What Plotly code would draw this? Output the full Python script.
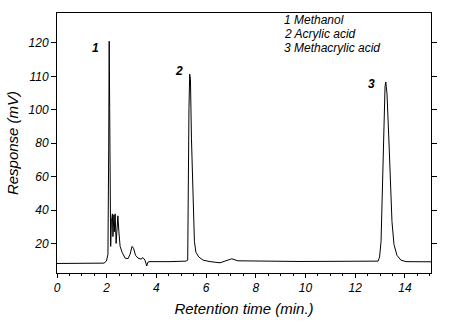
import plotly.graph_objects as go

# Chromatogram trace: retention time (min) and detector response
time_min = [0.00, 1.89, 1.99, 2.05, 2.08, 2.10, 2.12, 2.14, 2.16, 2.19, 2.23, 2.25,
            2.29, 2.31, 2.34, 2.38, 2.41, 2.45, 2.49, 2.54, 2.62, 2.74, 2.86, 2.94,
            3.02, 3.08, 3.16, 3.26, 3.38, 3.46, 3.54, 3.61, 3.66, 3.74, 4.55, 5.19,
            5.26, 5.27, 5.31, 5.34, 5.37, 5.41, 5.47, 5.53, 5.59, 5.71, 5.88, 6.16,
            6.56, 6.80, 7.03, 7.28, 8.17, 9.78, 12.92, 12.98, 13.04, 13.08, 13.14,
            13.20, 13.23, 13.28, 13.36, 13.42, 13.48, 13.56, 13.68, 13.84, 14.04, 15.05]
response = [8.0, 8.2, 9.4, 13.5, 77.0, 141.0, 100.7, 47.7, 18.2, 33.0, 37.7, 24.1,
            37.1, 27.0, 37.7, 20.0, 30.0, 36.5, 27.0, 18.2, 14.7, 11.2, 10.9, 13.5,
            18.2, 17.1, 12.9, 11.2, 10.6, 11.5, 10.0, 6.5, 8.8, 9.1, 9.1, 9.4,
            10.0, 47.7, 100.7, 121.3, 118.3, 83.0, 47.7, 21.2, 14.7, 11.8, 10.0, 9.1,
            8.4, 9.4, 10.8, 9.6, 9.4, 9.2, 9.4, 11.8, 21.2, 47.7, 83.0,
            113.7, 116.6, 109.5, 80.1, 53.6, 33.0, 19.4, 12.9, 10.0, 9.1, 9.0]

# Axis ticks
y_tick_pos = [20, 40, 60, 80, 100, 120, 140]
y_tick_text = ["20", "40", "60", "80", "100", "110", "120"]
x_tick_pos = [0, 2, 4, 6, 8, 10, 12, 14]

# Peak numbers and compound key
peak_ids = ["1", "2", "3"]
peak_label_t = [1.53, 4.91, 12.64]
peak_label_r = [137.2, 123.1, 115.4]
compounds = ["1 Methanol", "2 Acrylic acid", "3 Methacrylic acid"]

FONT = "Liberation Sans, Arial, sans-serif"

fig = go.Figure()
fig.add_trace(go.Scatter(x=time_min, y=response, mode="lines",
                         line=dict(color="black", width=1), showlegend=False,
                         hoverinfo="skip"))

for pid, t, r in zip(peak_ids, peak_label_t, peak_label_r):
    fig.add_annotation(x=t, y=r, text="<b>" + pid + "</b>", showarrow=False,
                       xanchor="center", yanchor="middle",
                       font=dict(family=FONT, size=12, color="black", style="italic"))

key_y = [0.975, 0.921, 0.867]
for txt, yy in zip(compounds, key_y):
    fig.add_annotation(x=0.602, y=yy, xref="paper", yref="paper", text=txt,
                       showarrow=False, xanchor="left", yanchor="middle",
                       font=dict(family=FONT, size=12, color="black", style="italic"))

fig.update_layout(
    width=450, height=327,
    margin=dict(l=57, r=19, t=13, b=50),
    paper_bgcolor="white", plot_bgcolor="white",
    font=dict(family=FONT, size=12, color="black", style="italic"),
    xaxis=dict(range=[0, 15.05], tickvals=x_tick_pos, ticks="outside", ticklen=4,
               tickwidth=1, tickcolor="black", showline=True, linecolor="black",
               linewidth=1, mirror=True, showgrid=False, zeroline=False,
               minor=dict(dtick=0.5, ticks="outside", ticklen=2, tickcolor="black"),
               title=dict(text="Retention time (min.)", standoff=9,
                          font=dict(family=FONT, size=15, style="italic"))),
    yaxis=dict(range=[2.3, 157.9], tickvals=y_tick_pos, ticktext=y_tick_text,
               ticks="outside", ticklen=5, tickwidth=1, tickcolor="black",
               showline=True, linecolor="black", linewidth=1, mirror="ticks",
               showgrid=False, zeroline=False,
               title=dict(text="Response (mV)", standoff=6,
                          font=dict(family=FONT, size=15, style="italic"))),
)

fig.write_html("out.html")
